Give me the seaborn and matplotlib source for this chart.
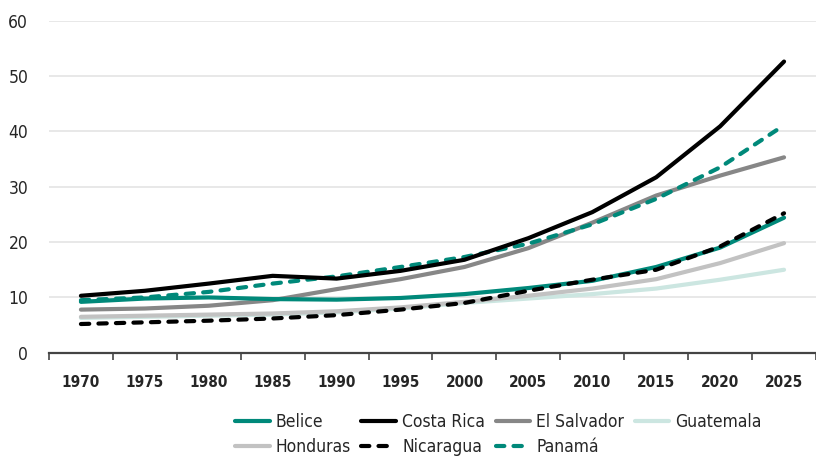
import matplotlib
matplotlib.use('Agg')
import matplotlib.pyplot as plt
import seaborn as sns
import pandas as pd
from matplotlib.ticker import FixedLocator
from matplotlib import font_manager

YEARS = ['1970', '1975', '1980', '1985', '1990', '1995',
         '2000', '2005', '2010', '2015', '2020', '2025']

BELICE = [9.2, 9.8, 10.0, 9.7, 9.6, 9.9, 10.6, 11.7, 13.0, 15.5, 19.0, 24.4]
COSTA_RICA = [10.3, 11.2, 12.5, 13.9, 13.4, 14.8, 16.8, 20.7, 25.4, 31.7, 40.9, 52.6]
EL_SALVADOR = [7.8, 8.0, 8.5, 9.5, 11.5, 13.3, 15.5, 18.9, 23.5, 28.4, 32.0, 35.3]
GUATEMALA = [6.3, 6.5, 6.7, 6.9, 7.3, 8.0, 9.0, 9.8, 10.6, 11.6, 13.2, 15.0]
HONDURAS = [6.5, 6.7, 6.9, 7.1, 7.5, 8.2, 9.2, 10.3, 11.6, 13.3, 16.2, 19.8]
NICARAGUA = [5.2, 5.5, 5.8, 6.2, 6.8, 7.8, 9.0, 11.2, 13.2, 15.0, 19.2, 25.2]
PANAMA = [9.5, 10.0, 11.0, 12.5, 13.8, 15.5, 17.3, 19.7, 23.2, 27.8, 33.5, 41.1]

SERIES = {
    'Belice': BELICE,
    'Costa Rica': COSTA_RICA,
    'El Salvador': EL_SALVADOR,
    'Guatemala': GUATEMALA,
    'Honduras': HONDURAS,
    'Nicaragua': NICARAGUA,
    'Panamá': PANAMA,
}

TEAL = '#00897a'
COLORS = {
    'Belice': TEAL,
    'Costa Rica': '#000000',
    'El Salvador': '#878787',
    'Guatemala': '#cce6e1',
    'Honduras': '#c2c2c2',
    'Nicaragua': '#000000',
    'Panamá': TEAL,
}
DASHED = {'Nicaragua', 'Panamá'}

rows = []
for name, vals in SERIES.items():
    for i, v in enumerate(vals):
        rows.append({'idx': i, 'year': YEARS[i], 'country': name, 'value': v})
df = pd.DataFrame(rows)

sns.set_style('white')
# pick a narrow face if one is installed
names = {f.name for f in font_manager.fontManager.ttflist}
narrow = [n for n in ['Liberation Sans Narrow', 'DejaVu Sans Condensed']
          if n in names]
plt.rcParams['font.family'] = narrow + ['DejaVu Sans']
plt.rcParams['font.stretch'] = 'condensed'

fig, ax = plt.subplots(figsize=(8.16, 4.57), dpi=100)
fig.subplots_adjust(left=0.06, right=1.0, top=0.955, bottom=0.228)

# draw order: light ones first so dark lines sit on top
order = ['Guatemala', 'Honduras', 'El Salvador', 'Belice', 'Panamá',
         'Nicaragua', 'Costa Rica']
for name in order:
    sub = df[df['country'] == name]
    sns.lineplot(
        data=sub, x='idx', y='value', ax=ax, color=COLORS[name],
        linewidth=3.0, dashes=False, legend=False,
    )
    line = ax.lines[-1]
    if name in DASHED:
        line.set_dashes((2.0, 2.2))
    line.set_label(name)
    line.set_solid_capstyle('round')
    line.set_dash_capstyle('round')

ax.set_xlim(-0.5, 11.5)
ax.set_ylim(0, 60)
ax.set_yticks(range(0, 61, 10))
ax.yaxis.grid(True, color='#e4e4e4', linewidth=1.2)
ax.set_axisbelow(True)

ax.set_xticks(range(len(YEARS)))
ax.set_xticklabels(YEARS, fontweight='bold', fontsize=11)
ax.tick_params(axis='x', which='major', length=0, pad=16)
ax.xaxis.set_minor_locator(FixedLocator([i - 0.5 for i in range(len(YEARS) + 1)]))
ax.tick_params(axis='x', which='minor', length=5, width=1.2, color='#444444',
               direction='out', bottom=True)
ax.tick_params(axis='y', length=0, labelsize=12.5, pad=15)

for side in ['top', 'right', 'left']:
    ax.spines[side].set_visible(False)
ax.spines['bottom'].set_color('#444444')
ax.spines['bottom'].set_linewidth(1.6)

ax.set_xlabel('')
ax.set_ylabel('')

handles = {l.get_label(): l for l in ax.lines}
leg_order = ['Belice', 'Honduras', 'Costa Rica', 'Nicaragua',
             'El Salvador', 'Panamá', 'Guatemala']
fig.legend(
    [handles[n] for n in leg_order], leg_order,
    loc='upper left', bbox_to_anchor=(0.288, 0.096), ncol=4,
    frameon=False, fontsize=12.5, handlelength=2.0, handletextpad=0.35,
    columnspacing=0.6, labelspacing=0.4, borderpad=0, borderaxespad=0,
)

plt.savefig('out.png', dpi=100)
